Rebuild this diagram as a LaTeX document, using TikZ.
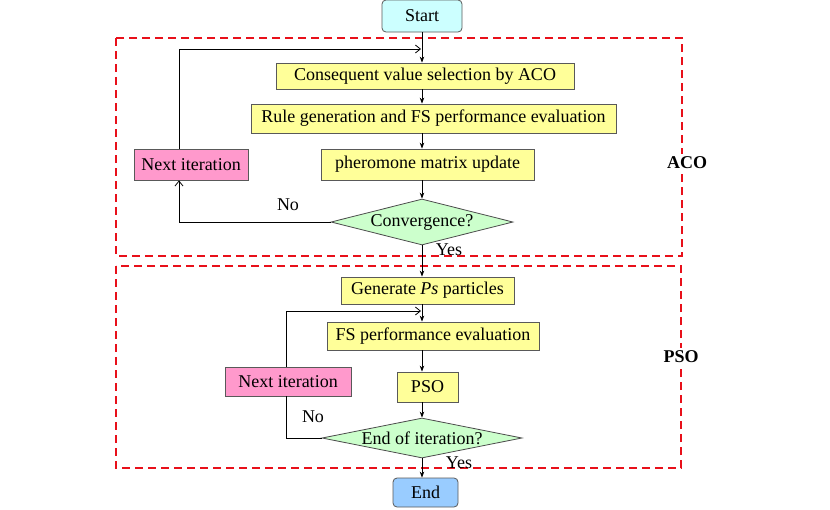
\documentclass[tikz,border=0pt]{standalone}
\usepackage{fontspec}
\setmainfont{Liberation Serif}
\usetikzlibrary{shapes.geometric,arrows.meta}
\definecolor{boxyellow}{HTML}{FFFF99}
\definecolor{boxpink}{HTML}{FF99CC}
\definecolor{boxgreen}{HTML}{CCFFCC}
\definecolor{boxcyan}{HTML}{CCFFFF}
\definecolor{boxblue}{HTML}{99CCFF}
\definecolor{dashred}{HTML}{E8101A}
\begin{document}
\begin{tikzpicture}[x=1pt,y=-1pt,
  every node/.style={font=\fontsize{18}{20}\selectfont, inner sep=0pt, text=black},
  proc/.style={draw=black!65, fill=boxyellow, line width=0.8pt},
  nextbox/.style={draw=black!65, fill=boxpink, line width=0.8pt},
  decide/.style={diamond, draw=black!70, fill=boxgreen, line width=0.8pt, shape aspect=5},
  term/.style={draw=black!65, rounded corners=4pt, line width=0.8pt},
  region/.style={draw=dashred, line width=1.6pt, dash pattern=on 8pt off 5pt},
  tag/.style={fill=white, font=\fontsize{18}{20}\selectfont\bfseries, inner sep=3pt},
  flow/.style={draw=black, line width=0.8pt, -{Stealth[length=6pt,width=4.5pt]}},
  back/.style={draw=black, line width=0.8pt, -{Straight Barb[length=5pt,width=8pt]}},
  plain/.style={draw=black, line width=0.8pt},
  lbl/.style={}
]
\useasboundingbox (0,0) rectangle (830,509);

% regions
\draw[region] (116,38) rectangle (682,256);
\draw[region] (116,266) rectangle (681,468);
\node[tag] (acotag) at (687,163) {ACO};
\node[tag] (psotag) at (681,357) {PSO};

% nodes
\node[term, fill=boxcyan, minimum width=80pt, minimum height=32pt] (start) at (422,16) {Start};
\node[proc, minimum width=298pt, minimum height=26pt] (cons) at (425,76) {Consequent value selection by ACO};
\node[proc, minimum width=365pt, minimum height=29pt] (rule) at (433.5,118.5) {Rule generation and FS performance evaluation};
\node[proc, minimum width=213pt, minimum height=31pt] (pher) at (427.5,164.5) {pheromone matrix update};
\node[nextbox, minimum width=114pt, minimum height=31pt] (next1) at (191,164.5) {Next iteration};
\node[decide, minimum width=182pt, minimum height=46pt] (conv) at (422,222) {Convergence?};

\node[proc, minimum width=173pt, minimum height=27pt] (gen) at (427.5,290.5) {Generate \textit{Ps} particles};
\node[proc, minimum width=212pt, minimum height=28pt] (fs) at (433,336) {FS performance evaluation};
\node[nextbox, minimum width=126pt, minimum height=29pt] (next2) at (288,381.5) {Next iteration};
\node[proc, minimum width=61pt, minimum height=30pt] (pso) at (427.5,387) {PSO};
\node[decide, minimum width=200pt, minimum height=40pt] (endq) at (422,438) {End of iteration?};
\node[term, fill=boxblue, minimum width=65pt, minimum height=29pt] (end) at (425.5,492.5) {End};

% labels
\node[lbl] (no1) at (288,205) {No};
\node[lbl] (yes1) at (449,250) {Yes};
\node[lbl] (no2) at (313,417) {No};
\node[lbl] (yes2) at (459,463) {Yes};

% loop coordinates
\coordinate (l1top) at (179,49);
\coordinate (l1in) at (421,49);
\coordinate (l2top) at (286,311);
\coordinate (l2in) at (421,311);

% main flow
\draw[flow] (start.south) -- (start.south |- cons.north);
\draw[flow] (start.south |- cons.south) -- (start.south |- rule.north);
\draw[flow] (start.south |- rule.south) -- (start.south |- pher.north);
\draw[flow] (start.south |- pher.south) -- (conv.north);
\draw[flow] (conv.south) -- (conv.south |- gen.north);
\draw[flow] (conv.south |- gen.south) -- (conv.south |- fs.north);
\draw[flow] (conv.south |- fs.south) -- (conv.south |- pso.north);
\draw[flow] (conv.south |- pso.south) -- (endq.north);
\draw[flow] (endq.south) -- (endq.south |- end.north);

% ACO loop
\draw[back] (conv.west) -| (l1top |- next1.south);
\draw[back] (l1top |- next1.north) -- (l1top) -- (l1in);

% PSO loop
\draw[plain] (endq.west) -| (l2top |- next2.south);
\draw[back] (l2top |- next2.north) -- (l2top) -- (l2in);
\end{tikzpicture}
\end{document}
